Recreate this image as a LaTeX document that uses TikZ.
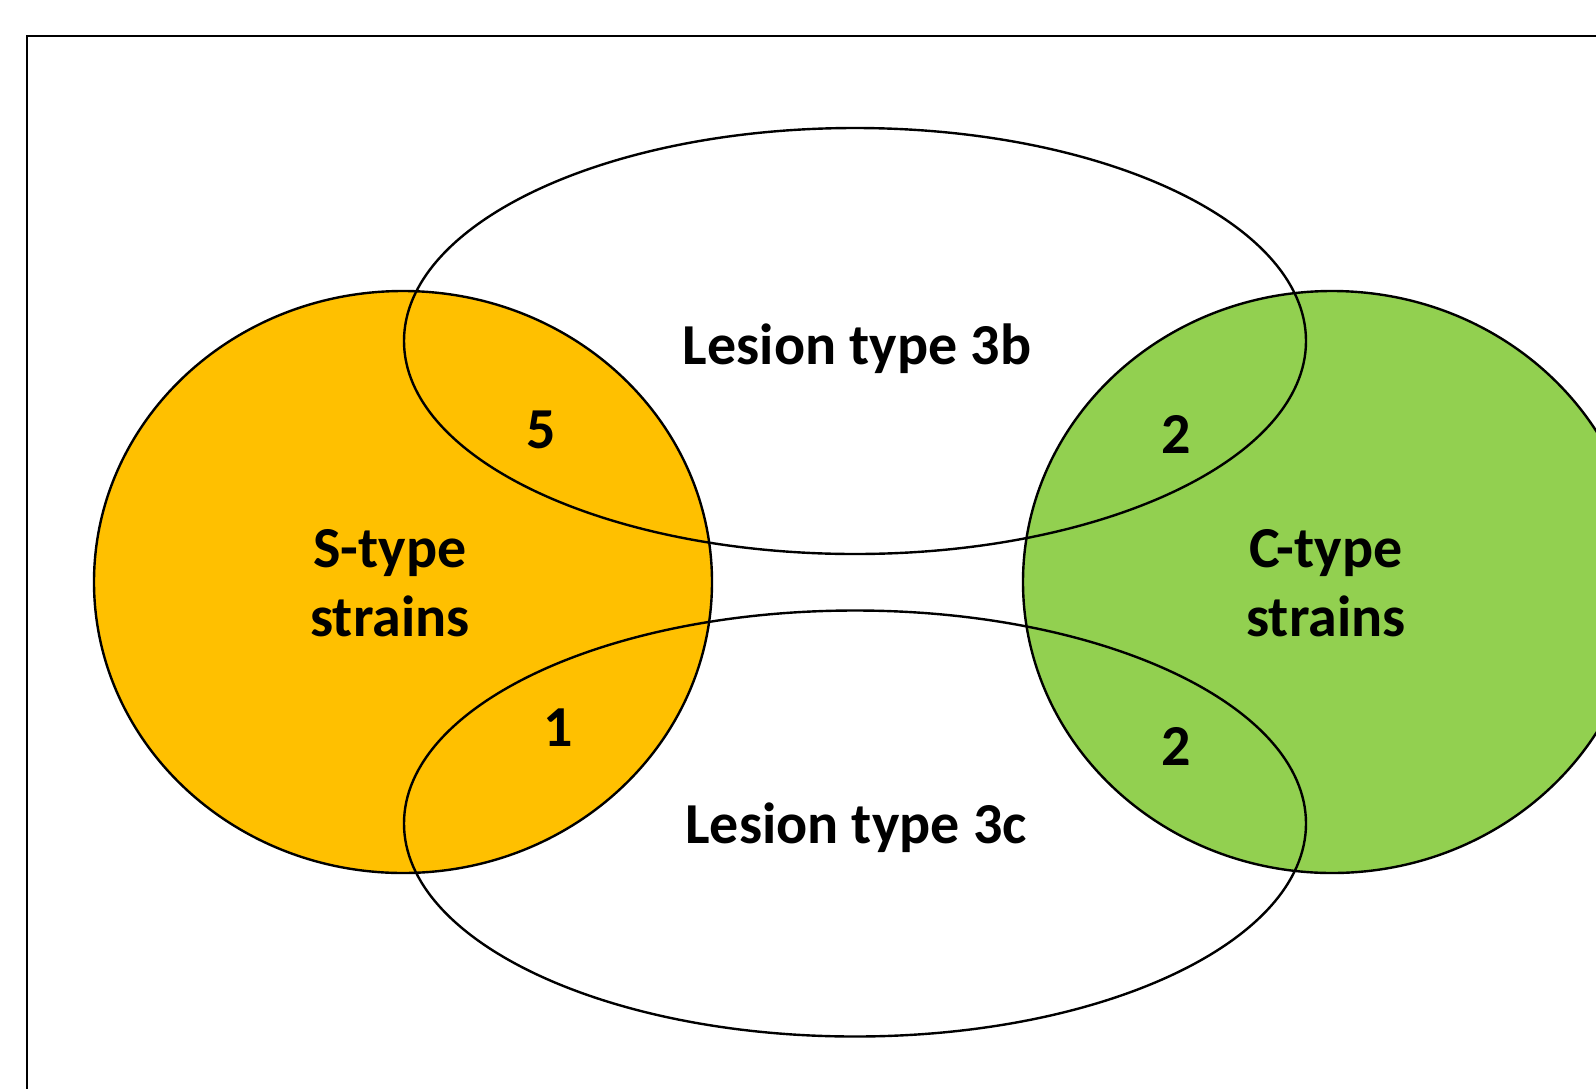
\documentclass[tikz,border=0pt]{standalone}
\usepackage{fontspec}
\setmainfont{Carlito}
\definecolor{sgold}{HTML}{FFC000}
\definecolor{cgreen}{HTML}{92D050}
\begin{document}
\begin{tikzpicture}[x=0.5pt,y=-0.5pt,
  outline/.style={draw=black,line width=1.2pt},
  lbl/.style={font=\bfseries\fontsize{29}{34.5}\selectfont,inner sep=0pt,anchor=base,align=center}]
\useasboundingbox (0,0) rectangle (1596,1088);
\clip (0,0) rectangle (1596,1088);
\fill[white] (0,0) rectangle (1596,1088);
\draw[line width=1.2pt] (27,36) rectangle (1660,1140);
% circles
\filldraw[outline,fill=sgold] (403,582) ellipse [x radius=309, y radius=291];
\filldraw[outline,fill=cgreen] (1332,582) ellipse [x radius=309, y radius=291];
% ellipses
\draw[outline] (855,341) ellipse [x radius=451, y radius=213];
\draw[outline] (855,823.5) ellipse [x radius=451, y radius=213];
% labels
\node[lbl] (l3b) at (857,364) {Lesion type 3b};
\node[lbl] (l3c) at (856,843) {Lesion type 3c};
\node[lbl] (stype) at (390,636) {S-type\\strains};
\node[lbl] (ctype) at (1326,636) {C-type\\strains};
\node[lbl] (n5) at (541.5,448) {5};
\node[lbl] (n2a) at (1176,453) {2};
\node[lbl] (n1) at (558,746.7) {1};
\node[lbl] (n2b) at (1176,765) {2};
\end{tikzpicture}
\end{document}
